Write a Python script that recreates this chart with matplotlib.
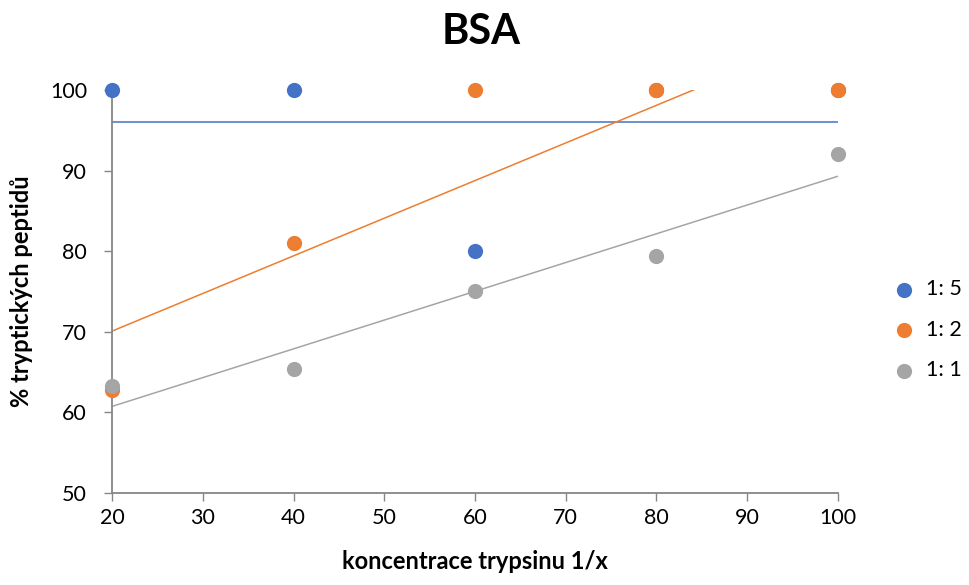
import numpy as np
import matplotlib
matplotlib.use("Agg")
import matplotlib.pyplot as plt

plt.rcParams['font.family'] = ['Lato', 'DejaVu Sans']

# Trypsin dilution (1/x) and share of tryptic peptides per ratio
x = [20, 40, 60, 80, 100]
ratios = ["1: 5", "1: 2", "1: 1"]
y_1_5 = [100, 100, 80, 100, 100]
y_1_2 = [62.8, 81, 100, 100, 100]
y_1_1 = [63.3, 65.4, 75, 79.4, 92]
colors = ["#4472C4", "#ED7D31", "#A5A5A5"]

fig = plt.figure(figsize=(9.69, 5.85), dpi=100)
ax = fig.add_axes([0.1156, 0.1573, 0.7492, 0.6889])

xs = np.array(x, dtype=float)
for label, ys, c in zip(ratios, [y_1_5, y_1_2, y_1_1], colors):
    ys = np.array(ys, dtype=float)
    ax.scatter(xs, ys, s=120, color=c, label=label, zorder=3, clip_on=False,
               linewidths=0)
    # linear trendline, clipped to the plot area
    k, q = np.polyfit(xs, ys, 1)
    xl = np.array([xs.min(), xs.max()])
    ax.plot(xl, k * xl + q, color=c, lw=1.1, zorder=2, clip_on=True)

ax.set_xlim(20, 100)
ax.set_ylim(50, 100)
ax.set_xticks(range(20, 101, 10))
ax.set_yticks(range(50, 101, 10))

for side in ("top", "right"):
    ax.spines[side].set_visible(False)
for side in ("left", "bottom"):
    ax.spines[side].set_color("#868686")
    ax.spines[side].set_linewidth(1.3)
ax.tick_params(axis="both", color="#868686", length=6, width=1.0,
               labelsize=15.5)
ax.tick_params(axis="y", pad=12)
ax.tick_params(axis="x", pad=5)

# chart title centred on the whole figure
fig.text(0.497, 0.945, "BSA", fontsize=30, fontweight="bold",
         ha="center", va="center")
ax.set_xlabel("koncentrace trypsinu 1/x", fontsize=17, fontweight="bold",
              labelpad=16)
ax.set_ylabel("% tryptických peptidů", fontsize=17, fontweight="bold",
              labelpad=12)

leg = ax.legend(loc="center left", bbox_to_anchor=(1.035, 0.405), frameon=False,
                fontsize=15.5, handletextpad=0.0, labelspacing=0.95,
                markerscale=1.0)
fig.savefig("out.png", dpi=100)
